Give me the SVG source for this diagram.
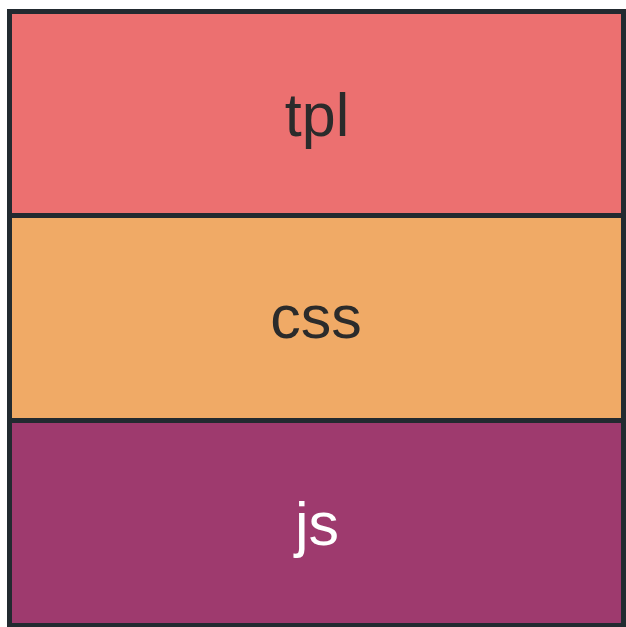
<svg xmlns="http://www.w3.org/2000/svg" width="626" height="627" viewBox="0 0 626 627">
<style>
.lbl{font-family:"Liberation Sans",Arial,sans-serif;font-size:61px;text-anchor:middle}
.box{stroke:#222a30;stroke-width:5}
</style>
<rect width="626" height="627" fill="#ffffff"/>
<g id="tpl">
<rect class="box" x="9.5" y="11.5" width="614" height="204" fill="#ec7070"/>
<text class="lbl" x="317" y="136" fill="#2b2b2b">tpl</text>
</g>
<g id="css">
<rect class="box" x="9.5" y="215.5" width="614" height="205" fill="#f0aa66"/>
<text class="lbl" x="316" y="338" fill="#2b2b2b">css</text>
</g>
<g id="js">
<rect class="box" x="9.5" y="420.5" width="614" height="205" fill="#9e3a6e"/>
<text class="lbl" x="317" y="545" fill="#ffffff">js</text>
</g>
<g id="connectors"></g>
</svg>
